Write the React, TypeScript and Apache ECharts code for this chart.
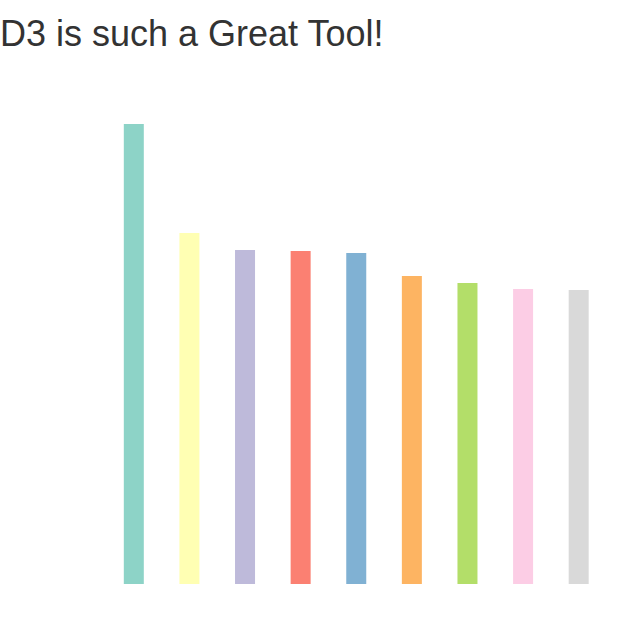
import React, { useEffect, useRef } from "react";
import * as echarts from "echarts";

const categories = ["A", "B", "C", "D", "E", "F", "G", "H", "I"];
const values = [460, 351, 334, 333, 331, 308, 301, 295, 294];
const colors = ["#8dd3c7", "#ffffb3", "#bebada", "#fb8072", "#80b1d3", "#fdb462", "#b3de69", "#fccde5", "#d9d9d9"];
const titleText = "D3 is such a Great Tool!";

export default function App() {
  const ref = useRef<HTMLDivElement>(null);
  useEffect(() => {
    const chart = echarts.init(ref.current!, null, { renderer: "svg" });
    chart.setOption({
      animation: false,
      title: {
        text: titleText,
        left: -5,
        top: 10,
        textStyle: {
          fontFamily: "Liberation Sans, Arial, sans-serif",
          fontSize: 36,
          fontWeight: "normal",
          color: "#333333",
        },
      },
      grid: { left: 106, top: 84, width: 500.5, height: 500 },
      xAxis: {
        type: "category",
        data: categories,
        show: false,
      },
      yAxis: {
        type: "value",
        min: 0,
        max: 500,
        show: false,
      },
      series: [
        {
          type: "bar",
          barWidth: 20,
          data: values.map((v, i) => ({ value: v, itemStyle: { color: colors[i] } })),
        },
      ],
    });
    return () => chart.dispose();
  }, []);
  return (
    <div
      ref={ref}
      style={{ position: "fixed", left: 0, top: 0, width: 634, height: 625, background: "#fff" }}
    />
  );
}
